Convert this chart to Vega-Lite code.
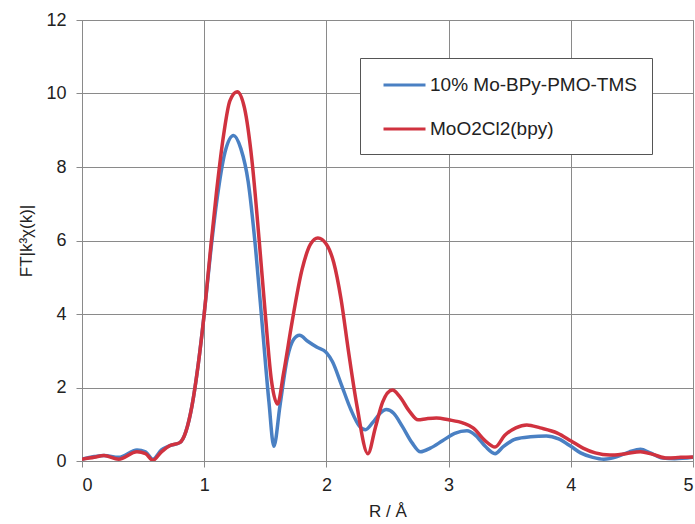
{
  "$schema": "https://vega.github.io/schema/vega-lite/v6.json",
  "width": 611,
  "height": 441,
  "autosize": "none",
  "padding": {"left": 82, "top": 20, "right": 2, "bottom": 63},
  "background": "white",
  "config": {
    "font": "Liberation Sans",
    "view": {"stroke": "#888", "strokeWidth": 1},
    "axis": {
      "gridColor": "#8a8a8a",
      "gridWidth": 1,
      "domainColor": "#8a8a8a",
      "tickColor": "#8a8a8a",
      "tickSize": 6,
      "labelFontSize": 18,
      "labelColor": "#222",
      "titleFontSize": 17,
      "titleFontWeight": "normal",
      "titleColor": "#222"
    }
  },
  "data": {"values": [
    {"s":"10% Mo-BPy-PMO-TMS","r":0,"ft":0.05},{"s":"10% Mo-BPy-PMO-TMS","r":0.1,"ft":0.12},{"s":"10% Mo-BPy-PMO-TMS","r":0.18,"ft":0.15},{"s":"10% Mo-BPy-PMO-TMS","r":0.3,"ft":0.1},{"s":"10% Mo-BPy-PMO-TMS","r":0.45,"ft":0.3},{"s":"10% Mo-BPy-PMO-TMS","r":0.52,"ft":0.25},{"s":"10% Mo-BPy-PMO-TMS","r":0.58,"ft":0.05},{"s":"10% Mo-BPy-PMO-TMS","r":0.65,"ft":0.3},{"s":"10% Mo-BPy-PMO-TMS","r":0.72,"ft":0.42},{"s":"10% Mo-BPy-PMO-TMS","r":0.8,"ft":0.5},{"s":"10% Mo-BPy-PMO-TMS","r":0.85,"ft":0.8},{"s":"10% Mo-BPy-PMO-TMS","r":0.9,"ft":1.5},{"s":"10% Mo-BPy-PMO-TMS","r":0.95,"ft":2.6},{"s":"10% Mo-BPy-PMO-TMS","r":1.0,"ft":4.0},{"s":"10% Mo-BPy-PMO-TMS","r":1.05,"ft":5.6},{"s":"10% Mo-BPy-PMO-TMS","r":1.1,"ft":7.0},{"s":"10% Mo-BPy-PMO-TMS","r":1.17,"ft":8.4},{"s":"10% Mo-BPy-PMO-TMS","r":1.24,"ft":8.86},{"s":"10% Mo-BPy-PMO-TMS","r":1.3,"ft":8.5},{"s":"10% Mo-BPy-PMO-TMS","r":1.36,"ft":7.6},{"s":"10% Mo-BPy-PMO-TMS","r":1.42,"ft":5.8},{"s":"10% Mo-BPy-PMO-TMS","r":1.48,"ft":3.5},{"s":"10% Mo-BPy-PMO-TMS","r":1.53,"ft":1.6},{"s":"10% Mo-BPy-PMO-TMS","r":1.57,"ft":0.4},{"s":"10% Mo-BPy-PMO-TMS","r":1.62,"ft":1.5},{"s":"10% Mo-BPy-PMO-TMS","r":1.68,"ft":2.8},{"s":"10% Mo-BPy-PMO-TMS","r":1.73,"ft":3.3},{"s":"10% Mo-BPy-PMO-TMS","r":1.78,"ft":3.42},{"s":"10% Mo-BPy-PMO-TMS","r":1.85,"ft":3.25},{"s":"10% Mo-BPy-PMO-TMS","r":1.92,"ft":3.1},{"s":"10% Mo-BPy-PMO-TMS","r":2.0,"ft":2.95},{"s":"10% Mo-BPy-PMO-TMS","r":2.05,"ft":2.7},{"s":"10% Mo-BPy-PMO-TMS","r":2.12,"ft":2.1},{"s":"10% Mo-BPy-PMO-TMS","r":2.2,"ft":1.4},{"s":"10% Mo-BPy-PMO-TMS","r":2.27,"ft":0.95},{"s":"10% Mo-BPy-PMO-TMS","r":2.32,"ft":0.85},{"s":"10% Mo-BPy-PMO-TMS","r":2.38,"ft":1.05},{"s":"10% Mo-BPy-PMO-TMS","r":2.44,"ft":1.3},{"s":"10% Mo-BPy-PMO-TMS","r":2.49,"ft":1.4},{"s":"10% Mo-BPy-PMO-TMS","r":2.55,"ft":1.3},{"s":"10% Mo-BPy-PMO-TMS","r":2.62,"ft":0.95},{"s":"10% Mo-BPy-PMO-TMS","r":2.7,"ft":0.5},{"s":"10% Mo-BPy-PMO-TMS","r":2.77,"ft":0.25},{"s":"10% Mo-BPy-PMO-TMS","r":2.85,"ft":0.35},{"s":"10% Mo-BPy-PMO-TMS","r":2.95,"ft":0.55},{"s":"10% Mo-BPy-PMO-TMS","r":3.05,"ft":0.75},{"s":"10% Mo-BPy-PMO-TMS","r":3.15,"ft":0.82},{"s":"10% Mo-BPy-PMO-TMS","r":3.22,"ft":0.7},{"s":"10% Mo-BPy-PMO-TMS","r":3.3,"ft":0.4},{"s":"10% Mo-BPy-PMO-TMS","r":3.38,"ft":0.2},{"s":"10% Mo-BPy-PMO-TMS","r":3.45,"ft":0.4},{"s":"10% Mo-BPy-PMO-TMS","r":3.55,"ft":0.6},{"s":"10% Mo-BPy-PMO-TMS","r":3.67,"ft":0.66},{"s":"10% Mo-BPy-PMO-TMS","r":3.8,"ft":0.68},{"s":"10% Mo-BPy-PMO-TMS","r":3.9,"ft":0.6},{"s":"10% Mo-BPy-PMO-TMS","r":4.0,"ft":0.4},{"s":"10% Mo-BPy-PMO-TMS","r":4.08,"ft":0.22},{"s":"10% Mo-BPy-PMO-TMS","r":4.18,"ft":0.1},{"s":"10% Mo-BPy-PMO-TMS","r":4.27,"ft":0.05},{"s":"10% Mo-BPy-PMO-TMS","r":4.38,"ft":0.12},{"s":"10% Mo-BPy-PMO-TMS","r":4.48,"ft":0.25},{"s":"10% Mo-BPy-PMO-TMS","r":4.57,"ft":0.32},{"s":"10% Mo-BPy-PMO-TMS","r":4.65,"ft":0.22},{"s":"10% Mo-BPy-PMO-TMS","r":4.75,"ft":0.08},{"s":"10% Mo-BPy-PMO-TMS","r":4.85,"ft":0.06},{"s":"10% Mo-BPy-PMO-TMS","r":5.0,"ft":0.1},
    {"s":"MoO2Cl2(bpy)","r":0,"ft":0.05},{"s":"MoO2Cl2(bpy)","r":0.1,"ft":0.1},{"s":"MoO2Cl2(bpy)","r":0.18,"ft":0.15},{"s":"MoO2Cl2(bpy)","r":0.3,"ft":0.05},{"s":"MoO2Cl2(bpy)","r":0.45,"ft":0.25},{"s":"MoO2Cl2(bpy)","r":0.52,"ft":0.2},{"s":"MoO2Cl2(bpy)","r":0.58,"ft":0.02},{"s":"MoO2Cl2(bpy)","r":0.65,"ft":0.25},{"s":"MoO2Cl2(bpy)","r":0.72,"ft":0.42},{"s":"MoO2Cl2(bpy)","r":0.8,"ft":0.5},{"s":"MoO2Cl2(bpy)","r":0.85,"ft":0.8},{"s":"MoO2Cl2(bpy)","r":0.9,"ft":1.5},{"s":"MoO2Cl2(bpy)","r":0.95,"ft":2.6},{"s":"MoO2Cl2(bpy)","r":1.0,"ft":4.0},{"s":"MoO2Cl2(bpy)","r":1.05,"ft":5.7},{"s":"MoO2Cl2(bpy)","r":1.1,"ft":7.3},{"s":"MoO2Cl2(bpy)","r":1.16,"ft":8.9},{"s":"MoO2Cl2(bpy)","r":1.21,"ft":9.8},{"s":"MoO2Cl2(bpy)","r":1.27,"ft":10.05},{"s":"MoO2Cl2(bpy)","r":1.33,"ft":9.6},{"s":"MoO2Cl2(bpy)","r":1.39,"ft":8.2},{"s":"MoO2Cl2(bpy)","r":1.45,"ft":6.0},{"s":"MoO2Cl2(bpy)","r":1.5,"ft":4.0},{"s":"MoO2Cl2(bpy)","r":1.55,"ft":2.2},{"s":"MoO2Cl2(bpy)","r":1.6,"ft":1.55},{"s":"MoO2Cl2(bpy)","r":1.65,"ft":2.4},{"s":"MoO2Cl2(bpy)","r":1.72,"ft":3.8},{"s":"MoO2Cl2(bpy)","r":1.8,"ft":5.2},{"s":"MoO2Cl2(bpy)","r":1.87,"ft":5.9},{"s":"MoO2Cl2(bpy)","r":1.93,"ft":6.07},{"s":"MoO2Cl2(bpy)","r":2.0,"ft":5.9},{"s":"MoO2Cl2(bpy)","r":2.06,"ft":5.4},{"s":"MoO2Cl2(bpy)","r":2.12,"ft":4.4},{"s":"MoO2Cl2(bpy)","r":2.18,"ft":3.0},{"s":"MoO2Cl2(bpy)","r":2.25,"ft":1.5},{"s":"MoO2Cl2(bpy)","r":2.34,"ft":0.2},{"s":"MoO2Cl2(bpy)","r":2.4,"ft":0.9},{"s":"MoO2Cl2(bpy)","r":2.46,"ft":1.6},{"s":"MoO2Cl2(bpy)","r":2.54,"ft":1.93},{"s":"MoO2Cl2(bpy)","r":2.6,"ft":1.75},{"s":"MoO2Cl2(bpy)","r":2.68,"ft":1.35},{"s":"MoO2Cl2(bpy)","r":2.75,"ft":1.12},{"s":"MoO2Cl2(bpy)","r":2.82,"ft":1.15},{"s":"MoO2Cl2(bpy)","r":2.9,"ft":1.17},{"s":"MoO2Cl2(bpy)","r":3.0,"ft":1.12},{"s":"MoO2Cl2(bpy)","r":3.12,"ft":1.03},{"s":"MoO2Cl2(bpy)","r":3.2,"ft":0.9},{"s":"MoO2Cl2(bpy)","r":3.3,"ft":0.55},{"s":"MoO2Cl2(bpy)","r":3.38,"ft":0.38},{"s":"MoO2Cl2(bpy)","r":3.46,"ft":0.7},{"s":"MoO2Cl2(bpy)","r":3.55,"ft":0.9},{"s":"MoO2Cl2(bpy)","r":3.64,"ft":0.98},{"s":"MoO2Cl2(bpy)","r":3.75,"ft":0.9},{"s":"MoO2Cl2(bpy)","r":3.89,"ft":0.76},{"s":"MoO2Cl2(bpy)","r":4.0,"ft":0.55},{"s":"MoO2Cl2(bpy)","r":4.1,"ft":0.35},{"s":"MoO2Cl2(bpy)","r":4.2,"ft":0.22},{"s":"MoO2Cl2(bpy)","r":4.32,"ft":0.16},{"s":"MoO2Cl2(bpy)","r":4.45,"ft":0.2},{"s":"MoO2Cl2(bpy)","r":4.57,"ft":0.25},{"s":"MoO2Cl2(bpy)","r":4.67,"ft":0.18},{"s":"MoO2Cl2(bpy)","r":4.79,"ft":0.08},{"s":"MoO2Cl2(bpy)","r":4.9,"ft":0.1},{"s":"MoO2Cl2(bpy)","r":5.0,"ft":0.11}
  ]},
  "mark": {"type": "line", "interpolate": "monotone", "strokeWidth": 3.5, "clip": true},
  "encoding": {
    "x": {"field": "r", "type": "quantitative", "scale": {"domain": [0, 5], "nice": false},
      "axis": {"values": [0,1,2,3,4,5], "title": "R / Å", "labelPadding": 9, "titlePadding": 9}},
    "y": {"field": "ft", "type": "quantitative", "scale": {"domain": [0, 12], "nice": false},
      "axis": {"values": [0,2,4,6,8,10,12], "title": "FT|k³χ(k)|", "labelPadding": 10, "titlePadding": 10}},
    "color": {"field": "s", "type": "nominal",
      "scale": {"domain": ["10% Mo-BPy-PMO-TMS", "MoO2Cl2(bpy)"], "range": ["#4a80c3", "#d0323f"]},
      "legend": {"title": null, "orient": "none", "legendX": 278, "legendY": 38,
        "symbolType": "M-0.333,0H3.667", "symbolStrokeWidth": 3, "symbolSize": 441,
        "labelFontSize": 19, "labelColor": "#222", "labelLimit": 400, "rowPadding": 22, "padding": 15,
        "strokeColor": "#555", "fillColor": "white", "labelOffset": 31}}
  }
}
